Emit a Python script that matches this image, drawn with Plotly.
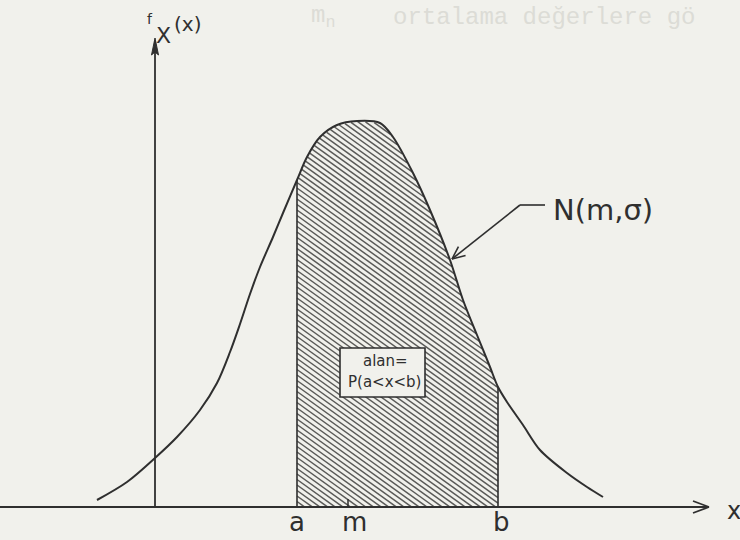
import numpy as np
import plotly.graph_objects as go

# ---- data (drawing units; origin at the axes' intersection) ----
curve_x = [-58, -28, 0, 22, 45, 62, 75, 85, 95, 105, 118, 128, 142, 152, 165, 182, 202,
           225, 238, 258, 275, 295, 308, 322, 335, 343, 352, 368, 385, 412, 432, 448]
curve_y = [7, 25, 49, 70, 97, 124, 155, 183, 213, 240, 270, 294, 327, 350, 370, 382, 386,
           384, 370, 334, 297, 247, 207, 172, 140, 120, 105, 82, 57, 34, 20, 10]
bound_a = 142
bound_b = 343
mean_m = 193
tick_values = [bound_a, mean_m, bound_b]
tick_labels = ["a", "m", "b"]
curve_label = "N(m,σ)"
area_label = ["alan=", "P(a&lt;x&lt;b)"]
axis_x_label = "x"
ghost_text = "ortalama değerlere gö"

INK = "#2f2f2f"
PAPER = "#f1f1ec"
FONT = "DejaVu Sans"

cx = np.array(curve_x, float)
cy = np.array(curve_y, float)

# ---- hatch lines clipped to the region a <= x <= b, 0 <= y <= f(x) ----
slope = 0.72
gap = 5.5
xs = np.arange(bound_a, bound_b + 0.001, 0.25)
top = np.interp(xs, cx, cy)
hx, hy = [], []
kmin = slope * bound_a
kmax = float(np.max(top + slope * xs))
for k in np.arange(kmin, kmax + gap, gap):
    yl = k - slope * xs
    inside = np.where((yl >= 0) & (yl <= top))[0]
    if len(inside) == 0:
        continue
    runs = np.split(inside, np.where(np.diff(inside) > 1)[0] + 1)
    for r in runs:
        hx += [xs[r[0]], xs[r[-1]], None]
        hy += [yl[r[0]], yl[r[-1]], None]

fa = float(np.interp(bound_a, cx, cy))
fb = float(np.interp(bound_b, cx, cy))

fig = go.Figure()
fig.add_trace(go.Scatter(x=hx, y=hy, mode="lines",
                         line=dict(color="#5a5a58", width=1.5),
                         hoverinfo="skip"))
fig.add_trace(go.Scatter(x=[bound_a, bound_a, None, bound_b, bound_b],
                         y=[0, fa, None, 0, fb], mode="lines",
                         line=dict(color=INK, width=1.6), hoverinfo="skip"))
fig.add_trace(go.Scatter(x=curve_x, y=curve_y, mode="lines",
                         line=dict(color=INK, width=2, shape="spline", smoothing=0.9),
                         hoverinfo="skip"))

shapes = []
def seg(x0, y0, x1, y1, w=1.8):
    shapes.append(dict(type="line", x0=x0, y0=y0, x1=x1, y1=y1,
                       line=dict(color=INK, width=w), layer="above"))

# axes
seg(-155, 0, 554, 0, 2)
seg(554, 0, 538, 6, 1.8)
seg(554, 0, 538, -6, 1.8)
seg(0, 0, 0, 466, 1.8)
shapes.append(dict(type="path", path="M -3.5 452 L 0 469 L 3.5 452 L 0 455 Z",
                   fillcolor=INK, line=dict(color=INK, width=1)))
# tick at m
seg(mean_m, 0, mean_m, 8, 1.5)

# label box
shapes.append(dict(type="rect", x0=185, y0=110, x1=270, y1=159,
                   fillcolor=PAPER, line=dict(color=INK, width=1.6), layer="above"))

# pointer to the curve
p0 = (390, 302); p1 = (365, 302); tip = (297, 248)
seg(*p0, *p1, 1.6)
seg(*p1, *tip, 1.6)
d = np.array([p1[0] - tip[0], p1[1] - tip[1]], float)
d /= np.linalg.norm(d)
for ang in (np.radians(24), -np.radians(24)):
    rot = np.array([[np.cos(ang), -np.sin(ang)], [np.sin(ang), np.cos(ang)]])
    e = rot @ d * 14
    seg(tip[0], tip[1], tip[0] + e[0], tip[1] + e[1], 1.6)

ann = []
def txt(x, y, t, size, xanchor="center", color=INK, family=FONT):
    ann.append(dict(x=x, y=y, text=t, showarrow=False, xanchor=xanchor, yanchor="middle",
                    font=dict(family=family, size=size, color=color)))

# faint bleed-through text from the page's other side
txt(236, 490, ghost_text, 24, "left", "#dcdcd6", "Liberation Mono")
txt(168, 490, "m<sub>n</sub>", 24, "center", "#dcdcd6", "Liberation Mono")

txt(448, 297, curve_label, 29)
offs = [0, 6, 3]
for v, lab, o in zip(tick_values, tick_labels, offs):
    txt(v + o, -15, lab, 26)
txt(579, -4, axis_x_label, 24)
txt(-5, 488, "f", 14)
txt(8, 472, "X", 22)
txt(32, 483, "(x)", 20)
txt(230, 146, area_label[0], 15)
txt(229, 125, area_label[1], 15)

fig.update_layout(
    width=740, height=540, margin=dict(l=0, r=0, t=0, b=0),
    paper_bgcolor=PAPER, plot_bgcolor=PAPER, showlegend=False,
    xaxis=dict(range=[-155, 585], visible=False, fixedrange=True),
    yaxis=dict(range=[-33, 507], visible=False, fixedrange=True),
    shapes=shapes, annotations=ann,
)
fig.write_html(
    "out.html",
    config={"displayModeBar": False},
    post_script="document.body.style.margin='0';document.body.style.background='#f1f1ec';",
)
